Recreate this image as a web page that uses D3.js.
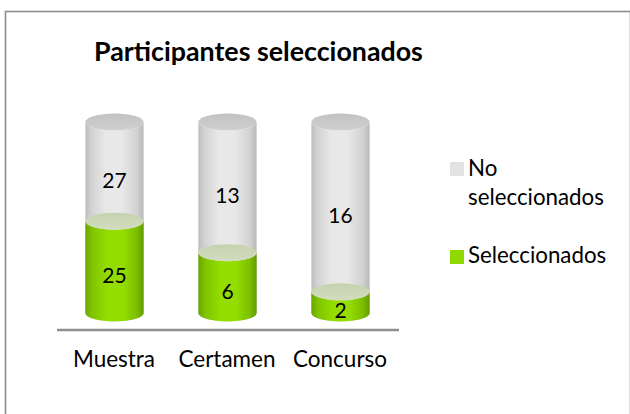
<!DOCTYPE html>
<html><head><meta charset="utf-8">
<script src="https://cdn.jsdelivr.net/npm/d3@7/dist/d3.min.js"></script>
<style>html,body{margin:0;padding:0;background:#fff}svg{display:block}text{font-family:Lato,"Open Sans",sans-serif;fill:#000}</style>
</head><body><svg id="c" width="630" height="414"></svg>
<script>
const categories = ["Muestra","Certamen","Concurso"];
const selected = [25,6,2];
const notSelected = [27,13,16];
const legendLabels = [["No","seleccionados"],["Seleccionados"]];
const titleText = "Participantes seleccionados";

const W=630,H=414;
const svg=d3.select("#c");
const defs=svg.append("defs");
function grad(id,stops,vertical){
  const g=defs.append("linearGradient").attr("id",id).attr("x1","0").attr("x2",vertical?"0":"1").attr("y1","0").attr("y2",vertical?"1":"0");
  stops.forEach(s=>g.append("stop").attr("offset",s[0]).attr("stop-color",s[1]));
}
grad("gGrey",[[0,"#bdbdbd"],[.1,"#d2d2d2"],[.35,"#e8e8e8"],[.62,"#e8e8e8"],[.88,"#d2d2d2"],[1,"#b8b8b8"]]);
grad("gGreen",[[0,"#6aa500"],[.12,"#80c502"],[.38,"#94dd03"],[.65,"#94dd03"],[.88,"#7cbf02"],[1,"#639b00"]]);
grad("gCapTop",[[0,"#c2c2c2"],[1,"#cfcfcf"]],true);
grad("gCapMid",[[0,"#c5d2ae"],[1,"#d3dcc0"]],true);
defs.append("filter").attr("id","soft").attr("x","-5%").attr("y","-5%").attr("width","110%").attr("height","110%")
  .append("feGaussianBlur").attr("stdDeviation",0.6);
defs.append("filter").attr("id","softLine").attr("filterUnits","userSpaceOnUse").attr("x",0).attr("y",0).attr("width",W).attr("height",H)
  .append("feGaussianBlur").attr("stdDeviation",0.5);

svg.append("rect").attr("x",5.5).attr("y",11.5).attr("width",W-5).attr("height",H-11+5)
  .attr("fill","#fff").attr("stroke","#8c8c8c").attr("stroke-width",1.6);

const x=d3.scaleBand().domain(categories).range([58,397]).paddingInner(0.485).paddingOuter(0.2425);
const y=d3.scaleLinear().domain([0,1]).range([313,122]);
const ry=8.5;
const data=categories.map((c,i)=>{const t=selected[i]+notSelected[i];return {c,s:selected[i],n:notSelected[i],f:selected[i]/t};});

function body(x0,w,yTop,yBot){
  return `M${x0},${yTop}L${x0},${yBot}A${w/2},${ry} 0 0 0 ${x0+w},${yBot}L${x0+w},${yTop}A${w/2},${ry} 0 0 1 ${x0},${yTop}Z`;
}
const g=svg.selectAll("g.cyl").data(data).join("g").attr("class","cyl");
g.each(function(d){
  const s=d3.select(this),x0=x(d.c),w=x.bandwidth(),cx=x0+w/2;
  const m=s.append("g").attr("filter","url(#soft)");
  m.append("path").attr("d",body(x0,w,y(1),y(0))).attr("fill","url(#gGrey)");
  m.append("path").attr("d",body(x0,w,y(d.f),y(0))).attr("fill","url(#gGreen)");
  m.append("ellipse").attr("cx",cx).attr("cy",y(d.f)).attr("rx",w/2).attr("ry",ry).attr("fill","url(#gCapMid)");
  m.append("ellipse").attr("cx",cx).attr("cy",y(1)).attr("rx",w/2).attr("ry",ry).attr("fill","url(#gCapTop)");
  s.append("text").attr("x",cx).attr("y",(y(d.f)+y(1))/2+16).attr("text-anchor","middle").attr("font-size",21).text(d.n);
  s.append("text").attr("x",cx).attr("y",(y(d.f)+y(0))/2+16).attr("text-anchor","middle").attr("font-size",21).text(d.s);
  s.append("text").attr("x",cx-0.5).attr("y",367).attr("text-anchor","middle").attr("font-size",22.5).text(d.c);
});
svg.append("line").attr("x1",57).attr("x2",399).attr("y1",330).attr("y2",330).attr("stroke","#8f8f8f").attr("stroke-width",2.5).attr("filter","url(#softLine)");

svg.append("text").attr("x",94).attr("y",61).attr("font-size",26.8).attr("font-weight",700).text(titleText);

svg.append("rect").attr("x",450).attr("y",162).attr("width",14).attr("height",14).attr("fill","#e3e3e3");
svg.append("rect").attr("x",450).attr("y",250).attr("width",14).attr("height",14).attr("fill","#8fd800");
const lg=[[176,legendLabels[0][0]],[205,legendLabels[0][1]],[263,legendLabels[1][0]]];
svg.selectAll("text.lg").data(lg).join("text").attr("class","lg").attr("x",468).attr("y",d=>d[0]).attr("font-size",22.3).text(d=>d[1]);
</script></body></html>
